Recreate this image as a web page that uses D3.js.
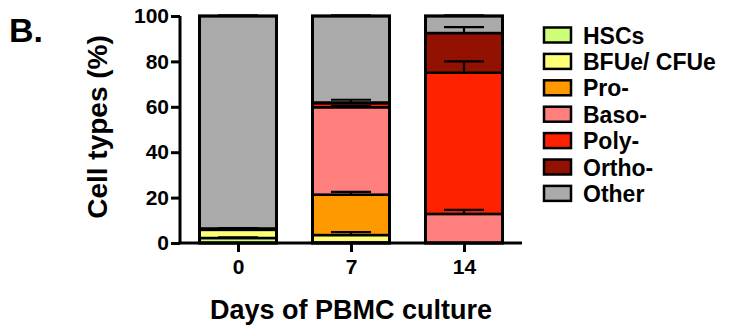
<!DOCTYPE html>
<html>
<head>
<meta charset="utf-8">
<script src="https://cdn.jsdelivr.net/npm/d3@7"></script>
<style>
  html, body { margin: 0; padding: 0; background: #fff; }
  svg { display: block; }
  text { font-family: "Liberation Sans", Arial, sans-serif; font-weight: bold; fill: #000; }
</style>
</head>
<body>
<svg id="chart" width="732" height="330"></svg>
<script>
// Culture days (x categories)
const days = ["0", "7", "14"];

// Cell type series, stacked bottom to top
const seriesNames = ["HSCs", "BFUe/ CFUe", "Pro-", "Baso-", "Poly-", "Ortho-", "Other"];
const seriesColors = ["#CCFF77", "#FFFF77", "#FF9900", "#FF7F7F", "#FF2200", "#921100", "#AAAAAA"];

// Mean percentage per day, one array per cell type
const hscs  = [2.2, 0.2, 0.0];
const bfue  = [3.6, 3.3, 0.0];
const pro   = [0.4, 17.8, 0.0];
const baso  = [0.2, 38.5, 12.8];
const poly  = [0.0, 1.8, 62.2];
const ortho = [0.0, 0.3, 17.5];
const other = [93.6, 38.1, 7.5];

// Error (SD) per day, drawn upward from the top of each segment
const hscsErr  = [0.3, 0.0, 0.0];
const bfueErr  = [0.5, 1.3, 0.0];
const proErr   = [0.4, 1.2, 0.0];
const basoErr  = [0.2, 0.6, 1.8];
const polyErr  = [0.0, 1.5, 5.0];
const orthoErr = [0.0, 0.0, 2.6];
const otherErr = [0.3, 0.3, 0.3];

const yTicks = [0, 20, 40, 60, 80, 100];

const values = [hscs, bfue, pro, baso, poly, ortho, other];
const errors = [hscsErr, bfueErr, proErr, basoErr, polyErr, orthoErr, otherErr];

// Table for d3.stack
const table = days.map((d, i) => {
  const row = { day: d };
  seriesNames.forEach((s, k) => { row[s] = values[k][i]; });
  return row;
});
const stacked = d3.stack().keys(seriesNames)(table);

const svg = d3.select("#chart");

const axisLeft = 180, axisRight = 522, axisTop = 16, axisBottom = 243;
const barWidth = 77;

const x = d3.scalePoint().domain(days).range([238, 464]);
const y = d3.scaleLinear().domain([0, 100]).range([axisBottom, axisTop]);

// Bar segments
const layers = svg.append("g").selectAll("g")
  .data(stacked)
  .join("g")
  .attr("fill", (d, k) => seriesColors[k]);

layers.selectAll("rect")
  .data(d => d.filter(p => p[1] - p[0] > 0))
  .join("rect")
  .attr("x", p => x(p.data.day) - barWidth / 2)
  .attr("width", barWidth)
  .attr("y", p => y(p[1]))
  .attr("height", p => y(p[0]) - y(p[1]))
  .attr("stroke", "#000")
  .attr("stroke-width", 2.5);

// Outer bar outline
svg.append("g").selectAll("rect")
  .data(days)
  .join("rect")
  .attr("x", d => x(d) - barWidth / 2)
  .attr("width", barWidth)
  .attr("y", y(100))
  .attr("height", y(0) - y(100))
  .attr("fill", "none")
  .attr("stroke", "#000")
  .attr("stroke-width", 3);

// Error bars
const capHalf = 20;
const errG = svg.append("g").attr("stroke", "#000").attr("stroke-width", 2.2);
stacked.forEach((layer, k) => {
  layer.forEach((p, i) => {
    const e = errors[k][i];
    if (!(e > 0) || p[1] - p[0] <= 0) return;
    const cx = x(p.data.day);
    const top = p[1] + e;
    errG.append("line")
      .attr("x1", cx).attr("x2", cx)
      .attr("y1", y(p[1])).attr("y2", y(top));
    errG.append("line")
      .attr("x1", cx - capHalf).attr("x2", cx + capHalf)
      .attr("y1", y(top)).attr("y2", y(top));
  });
});

// Y axis
const yAxis = svg.append("g")
  .attr("transform", `translate(${axisLeft},0)`)
  .call(d3.axisLeft(y).tickValues(yTicks).tickSize(9).tickPadding(2));
yAxis.select(".domain").attr("stroke", "#000").attr("stroke-width", 3)
  .attr("d", `M0,${axisTop}V${axisBottom}`);
yAxis.selectAll(".tick line").attr("stroke", "#000").attr("stroke-width", 3);
yAxis.selectAll(".tick text")
  .style("font-size", "21px").style("font-family", "Liberation Sans, Arial, sans-serif")
  .style("font-weight", "bold").attr("fill", "#000");

// X axis
const xAxis = svg.append("g")
  .attr("transform", `translate(0,${axisBottom})`)
  .call(d3.axisBottom(x).tickSize(9).tickPadding(7));
xAxis.select(".domain").attr("stroke", "#000").attr("stroke-width", 3)
  .attr("d", `M${axisLeft - 1.5},0H${axisRight}`);
xAxis.selectAll(".tick line").attr("stroke", "#000").attr("stroke-width", 3);
xAxis.selectAll(".tick text")
  .style("font-size", "21px").style("font-family", "Liberation Sans, Arial, sans-serif")
  .style("font-weight", "bold").attr("fill", "#000");

// Axis titles
svg.append("text")
  .attr("x", 351).attr("y", 319)
  .attr("text-anchor", "middle")
  .style("font-size", "27px")
  .text("Days of PBMC culture");

svg.append("text")
  .attr("transform", "translate(107,127) rotate(-90)")
  .attr("text-anchor", "middle")
  .style("font-size", "28px")
  .text("Cell types (%)");

// Panel label
svg.append("text")
  .attr("x", 9).attr("y", 42)
  .style("font-size", "34px")
  .text("B.");

// Legend
const legend = svg.append("g").selectAll("g")
  .data(seriesNames)
  .join("g")
  .attr("transform", (d, k) => `translate(544,${35 + k * 26.4})`);
legend.append("rect")
  .attr("x", 0).attr("y", -7.5)
  .attr("width", 27).attr("height", 15)
  .attr("fill", (d, k) => seriesColors[k])
  .attr("stroke", "#000").attr("stroke-width", 2.5);
legend.append("text")
  .attr("x", 39).attr("y", 8.5)
  .style("font-size", "23px")
  .text(d => d);
</script>
</body>
</html>
